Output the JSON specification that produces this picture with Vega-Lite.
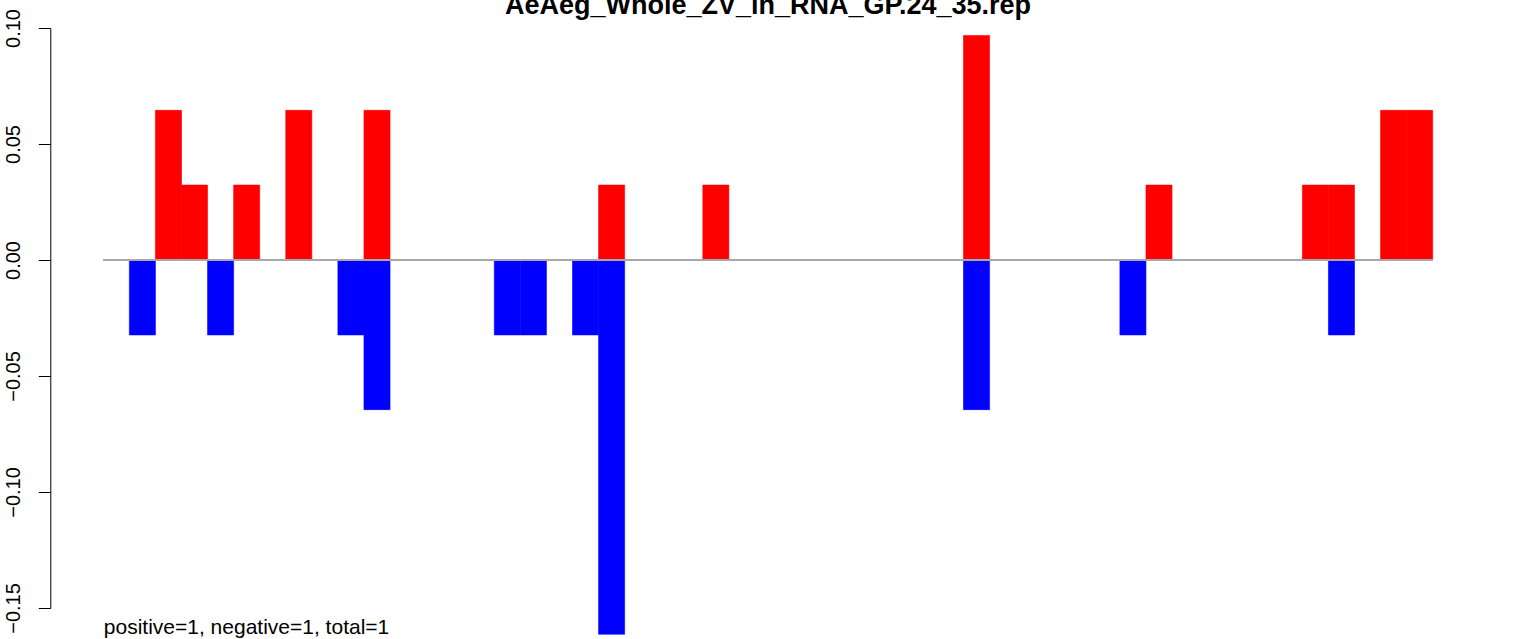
{
  "$schema": "https://vega.github.io/schema/vega-lite/v6.json",
  "autosize": {"type": "none"},
  "padding": {"left": 103.3, "top": 28, "right": 103.3, "bottom": 31},
  "width": 1329.4,
  "height": 580,
  "background": "white",
  "config": {"view": {"stroke": null}, "font": "Liberation Sans"},
  "title": {
    "text": "AeAeg_Whole_ZV_in_RNA_GP.24_35.rep",
    "font": "Liberation Sans",
    "fontSize": 27,
    "fontWeight": "bold",
    "color": "black",
    "anchor": "middle",
    "frame": "group",
    "baseline": "alphabetic",
    "offset": -32
  },
  "data": {
    "values": [
      {"pos": 1, "value": -0.0323, "sign": "negative"},
      {"pos": 2, "value": 0.0645, "sign": "positive"},
      {"pos": 3, "value": 0.0323, "sign": "positive"},
      {"pos": 4, "value": -0.0323, "sign": "negative"},
      {"pos": 5, "value": 0.0323, "sign": "positive"},
      {"pos": 7, "value": 0.0645, "sign": "positive"},
      {"pos": 9, "value": -0.0323, "sign": "negative"},
      {"pos": 10, "value": 0.0645, "sign": "positive"},
      {"pos": 10, "value": -0.0645, "sign": "negative"},
      {"pos": 15, "value": -0.0323, "sign": "negative"},
      {"pos": 16, "value": -0.0323, "sign": "negative"},
      {"pos": 18, "value": -0.0323, "sign": "negative"},
      {"pos": 19, "value": 0.0323, "sign": "positive"},
      {"pos": 19, "value": -0.1613, "sign": "negative"},
      {"pos": 23, "value": 0.0323, "sign": "positive"},
      {"pos": 33, "value": 0.0968, "sign": "positive"},
      {"pos": 33, "value": -0.0645, "sign": "negative"},
      {"pos": 39, "value": -0.0323, "sign": "negative"},
      {"pos": 40, "value": 0.0323, "sign": "positive"},
      {"pos": 46, "value": 0.0323, "sign": "positive"},
      {"pos": 47, "value": 0.0323, "sign": "positive"},
      {"pos": 47, "value": -0.0323, "sign": "negative"},
      {"pos": 49, "value": 0.0645, "sign": "positive"},
      {"pos": 50, "value": 0.0645, "sign": "positive"}
    ]
  },
  "layer": [
    {
      "mark": {"type": "bar", "strokeWidth": 0.6},
      "encoding": {
        "x": {
          "field": "pos",
          "type": "ordinal",
          "scale": {
            "domain": [0,1,2,3,4,5,6,7,8,9,10,11,12,13,14,15,16,17,18,19,20,21,22,23,24,25,26,27,28,29,30,31,32,33,34,35,36,37,38,39,40,41,42,43,44,45,46,47,48,49,50],
            "paddingInner": 0,
            "paddingOuter": 0
          },
          "axis": {
            "orient": "bottom",
            "domain": false,
            "ticks": false,
            "labels": false,
            "grid": false,
            "title": "positive=1, negative=1, total=1",
            "titleFont": "Liberation Sans",
            "titleFontSize": 21,
            "titleFontWeight": "normal",
            "titleColor": "black",
            "titleAnchor": "start",
            "titleAlign": "left",
            "titleBaseline": "alphabetic",
            "titlePadding": 25
          }
        },
        "y": {
          "field": "value",
          "type": "quantitative",
          "stack": null,
          "scale": {"domain": [-0.15, 0.1], "nice": false, "zero": false},
          "axis": {
            "values": [-0.15, -0.1, -0.05, 0, 0.05, 0.1],
            "format": ".2f",
            "title": null,
            "grid": false,
            "offset": 53,
            "domainColor": "black",
            "domainWidth": 1,
            "tickColor": "black",
            "tickWidth": 1,
            "tickSize": 12,
            "labelAngle": -90,
            "labelAlign": "center",
            "labelBaseline": "alphabetic",
            "labelPadding": 19,
            "labelFont": "Liberation Sans",
            "labelFontSize": 20,
            "labelColor": "black",
            "labelFlush": false,
            "labelOverlap": false,
            "labelBound": false
          }
        },
        "color": {
          "field": "sign",
          "type": "nominal",
          "scale": {"domain": ["positive", "negative"], "range": ["#FF0000", "#0000FF"]},
          "legend": null
        },
        "stroke": {
          "field": "sign",
          "type": "nominal",
          "scale": {"domain": ["positive", "negative"], "range": ["#FF0000", "#0000FF"]},
          "legend": null
        }
      }
    },
    {
      "mark": {"type": "rule", "color": "#A8A8A8", "strokeWidth": 1.3},
      "encoding": {"y": {"datum": 0}}
    }
  ]
}
